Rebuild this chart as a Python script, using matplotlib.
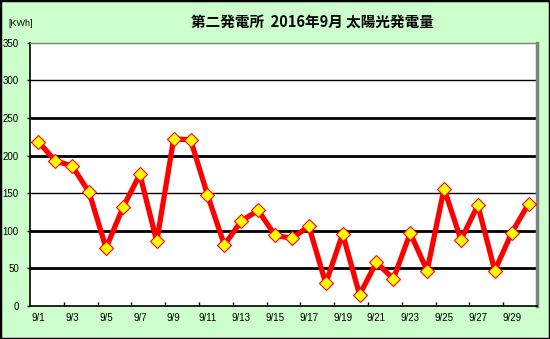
import matplotlib
matplotlib.use("Agg")
import matplotlib.pyplot as plt
from matplotlib.patches import Rectangle

plt.rcParams['font.family'] = ['Liberation Sans', 'Noto Sans CJK JP', 'DejaVu Sans']

# Daily solar generation, September 2016 (kWh)
days = [f"9/{d}" for d in range(1, 31)]
generation = [218, 193, 186, 151, 77, 131, 175, 86, 222, 221,
              148, 81, 113, 127, 94, 90, 106, 30, 96, 15,
              58, 36, 97, 47, 156, 88, 134, 47, 97, 136]
y_ticks = [0, 50, 100, 150, 200, 250, 300, 350]
thick_grid = [50, 100, 200, 250]
thin_grid = [150, 300]

title = "第二発電所  2016年9月 太陽光発電量"
unit_label = "[KWh]"

W, H, DPI = 550, 339, 100
fig = plt.figure(figsize=(W / DPI, H / DPI), dpi=DPI)
fig.patch.set_facecolor("#CCFFCC")
fig.patches.append(Rectangle((0, 0), 1, 1, transform=fig.transFigure,
                             fill=False, edgecolor="black", linewidth=2.5))

ax = fig.add_axes([30 / W, 1 - 306 / H, 507 / W, (306 - 42.7) / H])
ax.set_facecolor("white")

x = list(range(len(days)))
ax.set_xlim(-0.5, len(days) - 0.5)
ax.set_ylim(0, 350)

for g in thick_grid:
    ax.axhline(g, color="black", linewidth=2.0, zorder=1)
for g in thin_grid:
    ax.axhline(g, color="black", linewidth=1.0, zorder=1)

ax.plot(x, generation, color="#FF0000", linewidth=3.8, zorder=3,
        marker="D", markersize=7, markerfacecolor="#FFFF00",
        markeredgecolor="#FF0000", markeredgewidth=0.8)

# Tick marks on category boundaries, labels on every other day
ax.set_xticks([i + 1.5 for i in range(0, len(days) - 1, 2)])
ax.set_xticklabels([])
ax.tick_params(axis="x", which="major", direction="in", length=3, width=1)
ax.set_xticks(x[::2], minor=True)
ax.set_xticklabels(days[::2], minor=True, fontsize=7)
ax.tick_params(axis="x", which="minor", length=0, pad=5)

ax.set_yticks(y_ticks)
ax.set_yticklabels([str(v) for v in y_ticks], fontsize=7)
ax.tick_params(axis="y", direction="out", length=2, width=1, pad=6)

for side in ("left", "bottom"):
    ax.spines[side].set_color("black")
    ax.spines[side].set_linewidth(1.2)
ax.spines["top"].set_color("#808080")
ax.spines["top"].set_linewidth(1.0)
ax.spines["right"].set_color("#808080")
ax.spines["right"].set_linewidth(2.5)

fig.text(312 / W, 1 - 22 / H, title, ha="center", va="center",
         fontsize=10.5, fontweight="bold",
         family=["Noto Sans CJK JP", "DejaVu Sans"])
fig.text(8 / W, 1 - 23 / H, unit_label, ha="left", va="center", fontsize=6.5)

fig.savefig("out.png", dpi=DPI, facecolor=fig.get_facecolor())
